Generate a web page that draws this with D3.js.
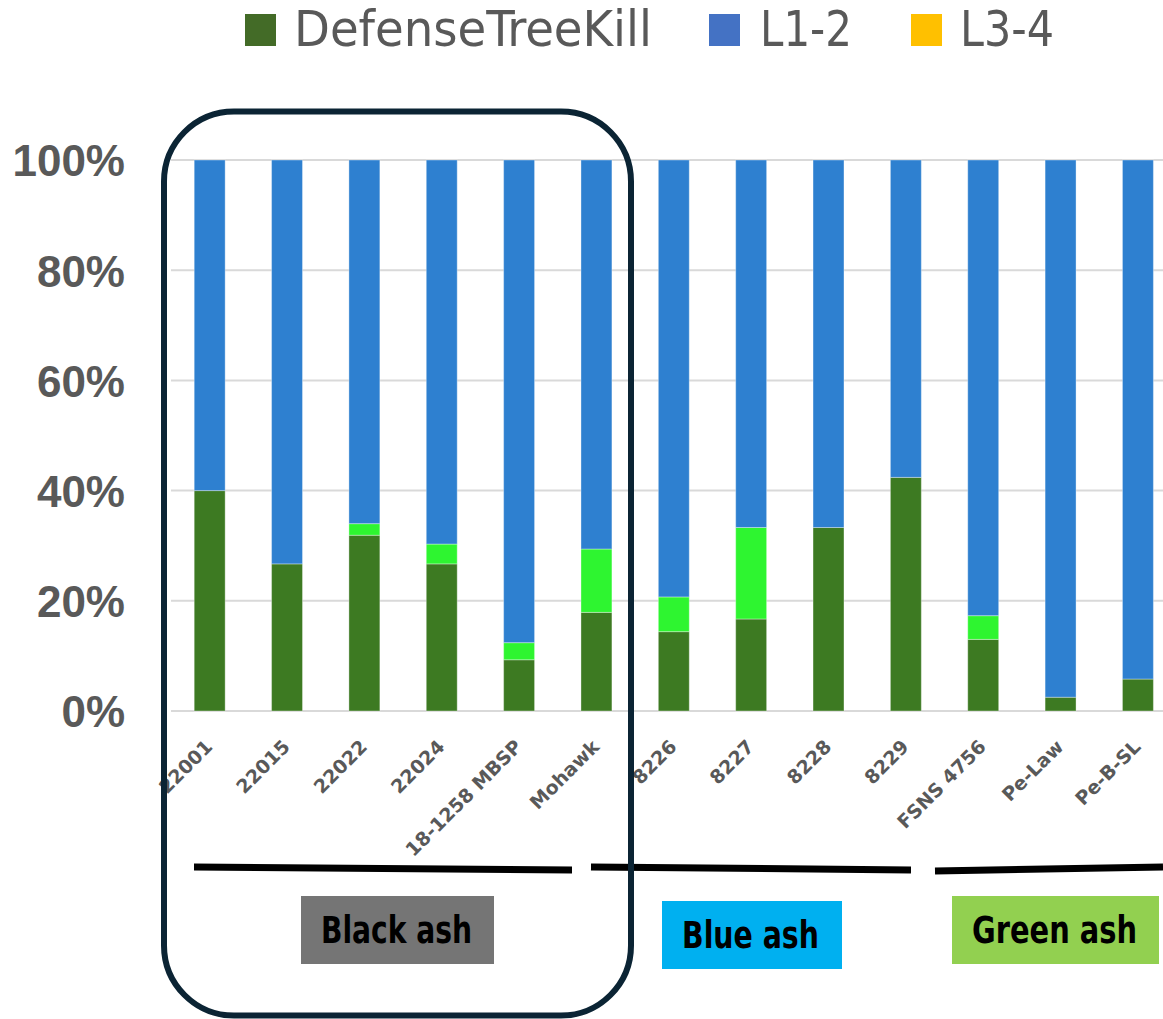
<!DOCTYPE html>
<html>
<head>
<meta charset="utf-8">
<script src="https://cdn.jsdelivr.net/npm/d3@7"></script>
<style>
  body { margin: 0; background: #fff; }
  svg { display: block; }
</style>
</head>
<body>
<div id="chart"></div>
<script>
'use strict';

// categories (clones) and the three stacked shares, in percent
const categories = ['22001', '22015', '22022', '22024', '18-1258 MBSP', 'Mohawk',
  '8226', '8227', '8228', '8229', 'FSNS 4756', 'Pe-Law', 'Pe-B-SL'];
const defenseTreeKill = [40.0, 26.7, 31.9, 26.7, 9.3, 17.9, 14.4, 16.7, 33.3, 42.4, 13.0, 2.5, 5.8];
const midKill = [0, 0, 2.1, 3.6, 3.1, 11.5, 6.3, 16.6, 0, 0, 4.3, 0, 0];
const l12 = [60.0, 73.3, 66.0, 69.7, 87.6, 70.6, 79.3, 66.7, 66.7, 57.6, 82.7, 97.5, 94.2];

const yTicks = [0, 20, 40, 60, 80, 100];

const legendItems = ['DefenseTreeKill', 'L1-2', 'L3-4'];
const groupLabels = ['Black ash', 'Blue ash', 'Green ash'];

const w = 1163;
const h = 1019;

const svg = d3.select('#chart').append('svg')
  .attr('width', w)
  .attr('height', h);

const rows = categories.map((c, i) => ({
  name: c,
  defense: defenseTreeKill[i],
  mid: midKill[i],
  l12: l12[i]
}));

const keys = ['defense', 'mid', 'l12'];
const barColors = { defense: '#3d7a22', mid: '#2ef530', l12: '#2e80d0' };

const x = d3.scaleBand()
  .domain(categories)
  .range([171, 1176.6])
  .paddingInner(0.6)
  .paddingOuter(0.3);

const y = d3.scaleLinear()
  .domain([0, 100])
  .range([711, 160]);

// gridlines
svg.append('g')
  .selectAll('line')
  .data(yTicks)
  .enter()
  .append('line')
  .attr('x1', 171)
  .attr('x2', w)
  .attr('y1', d => y(d))
  .attr('y2', d => y(d))
  .attr('stroke', '#d9d9d9')
  .attr('stroke-width', 2);

// y axis labels
const yAxis = d3.axisLeft(y)
  .tickValues(yTicks)
  .tickFormat(d => d + '%')
  .tickSize(0)
  .tickPadding(0);

const yg = svg.append('g')
  .attr('transform', 'translate(125,0)')
  .call(yAxis);
yg.select('.domain').remove();
yg.selectAll('text')
  .attr('dy', '0.36em')
  .style('font-family', '"Liberation Sans", Arial, sans-serif')
  .style('font-size', '44px')
  .style('font-weight', 'bold')
  .style('fill', '#595959');

// stacked bars
const series = d3.stack().keys(keys)(rows);

svg.append('g')
  .selectAll('g')
  .data(series)
  .enter()
  .append('g')
  .attr('fill', d => barColors[d.key])
  .selectAll('rect')
  .data(d => d)
  .enter()
  .append('rect')
  .attr('x', d => x(d.data.name))
  .attr('width', x.bandwidth())
  .attr('y', d => y(d[1]))
  .attr('height', d => y(d[0]) - y(d[1]))
  .attr('stroke', 'rgba(255,255,255,0.35)')
  .attr('stroke-width', 1);

// x labels, rotated
const xAxis = d3.axisBottom(x).tickSize(0).tickPadding(0);
const xg = svg.append('g')
  .attr('transform', 'translate(0,748)')
  .call(xAxis);
xg.select('.domain').remove();
xg.selectAll('.tick text')
  .attr('y', 0)
  .attr('dy', 0)
  .attr('transform', 'translate(4,0) rotate(-45)')
  .style('text-anchor', 'end')
  .style('font-family', '"DejaVu Sans", Verdana, sans-serif')
  .style('font-size', '19px')
  .style('font-weight', 'bold')
  .style('fill', '#595959');

// legend
const legendPos = [
  { sx: 245, tx: 294, tw: 358, color: '#436b27' },
  { sx: 709, tx: 760, tw: 92, color: '#4472c4' },
  { sx: 911, tx: 960, tw: 94, color: '#ffc000' }
];
const legend = svg.append('g').attr('class', 'legend');
legendItems.forEach(function (name, i) {
  const p = legendPos[i];
  legend.append('rect')
    .attr('x', p.sx)
    .attr('y', 14)
    .attr('width', 31)
    .attr('height', 32)
    .attr('fill', p.color);
  legend.append('text')
    .attr('x', p.tx)
    .attr('y', 46)
    .attr('textLength', p.tw)
    .attr('lengthAdjust', 'spacingAndGlyphs')
    .style('font-family', '"Liberation Sans Narrow", "DejaVu Sans Condensed", sans-serif')
    .style('font-size', '50px')
    .style('fill', '#595959')
    .text(name);
});

// group brackets and labels underneath the axis
const groupLines = [
  [[194, 867], [572, 870]],
  [[591, 867], [911, 870]],
  [[935, 871], [1163, 867]]
];
const groupBoxes = [
  { x: 301, y: 896, w: 193, h: 68, fill: '#757575', tx: 396.5, ty: 943, tw: 151 },
  { x: 662, y: 901, w: 180, h: 68, fill: '#00b0f0', tx: 750.5, ty: 948, tw: 137 },
  { x: 952, y: 896, w: 207, h: 68, fill: '#92d050', tx: 1054.5, ty: 943, tw: 165 }
];

const groups = svg.append('g').attr('class', 'groups');
groupLines.forEach(function (l) {
  groups.append('line')
    .attr('x1', l[0][0]).attr('y1', l[0][1])
    .attr('x2', l[1][0]).attr('y2', l[1][1])
    .attr('stroke', '#000')
    .attr('stroke-width', 7);
});
groupLabels.forEach(function (label, i) {
  const b = groupBoxes[i];
  groups.append('rect')
    .attr('x', b.x).attr('y', b.y)
    .attr('width', b.w).attr('height', b.h)
    .attr('fill', b.fill);
  groups.append('text')
    .attr('x', b.tx)
    .attr('y', b.ty)
    .attr('textLength', b.tw)
    .attr('lengthAdjust', 'spacingAndGlyphs')
    .style('text-anchor', 'middle')
    .style('font-family', '"Liberation Sans Narrow", "DejaVu Sans Condensed", sans-serif')
    .style('font-size', '37px')
    .style('font-weight', 'bold')
    .style('fill', '#000')
    .text(label);
});

// rounded frame around the black ash clones, drawn on top
svg.append('rect')
  .attr('x', 164)
  .attr('y', 111.5)
  .attr('width', 467)
  .attr('height', 904)
  .attr('rx', 70)
  .attr('ry', 70)
  .attr('fill', 'none')
  .attr('stroke', '#0b2434')
  .attr('stroke-width', 6);
</script>
</body>
</html>
